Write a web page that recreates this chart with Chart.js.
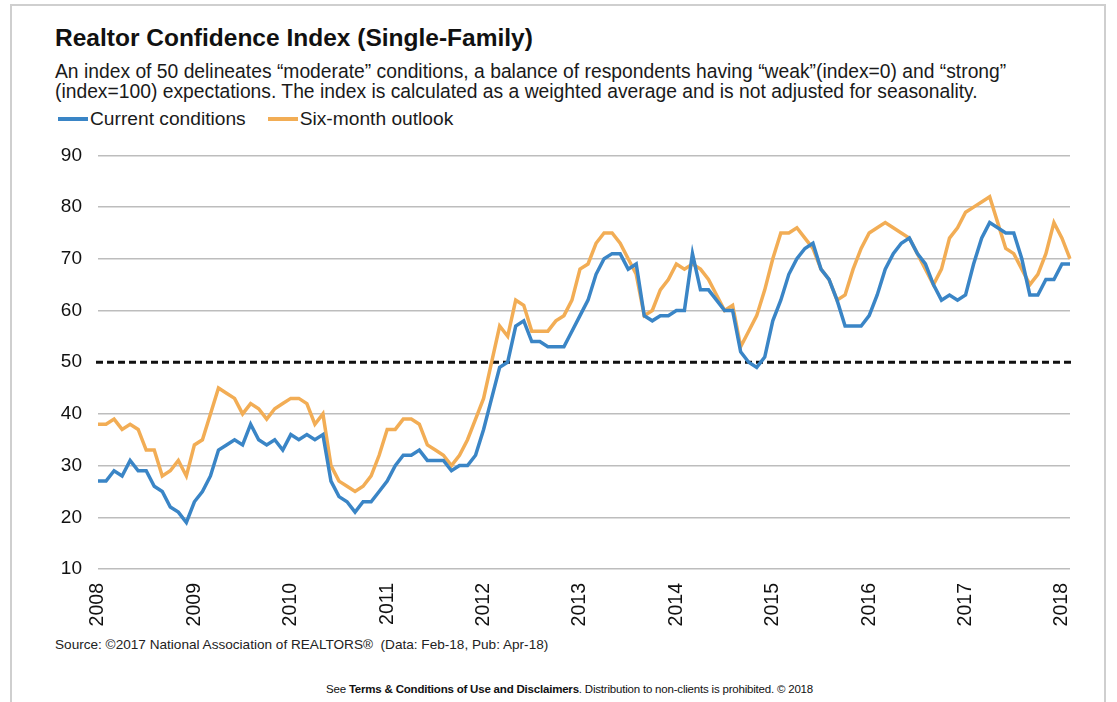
<!DOCTYPE html>
<html>
<head>
<meta charset="utf-8">
<script src="https://cdn.jsdelivr.net/npm/chart.js@4.4.1/dist/chart.umd.min.js"></script>
<style>
  html, body { margin: 0; padding: 0; background: #fff; }
  body { width: 1117px; height: 702px; position: relative; overflow: hidden;
         font-family: "Liberation Sans", Arial, sans-serif; color: #111; }
  #frame { position: absolute; left: 10px; top: 4px; width: 1096px; height: 720px;
           border: 2px solid #cfcfcf; box-sizing: border-box; }
  #title { position: absolute; left: 55px; top: 24px; font-size: 24.5px; font-weight: bold; }
  #sub { position: absolute; left: 55px; top: 62px; font-size: 19.3px; line-height: 20px; color: #1a1a1a; }
  #legend { position: absolute; left: 58px; top: 108px; font-size: 19.2px; line-height: 22px; color: #1a1a1a; white-space: nowrap; }
  #legend .sw { display: inline-block; width: 30px; height: 3.5px; vertical-align: middle; margin-right: 2px; position: relative; top: -1px; }
  #legend .item2 { margin-left: 22px; }
  #wrap { position: absolute; left: 0; top: 128px; width: 1117px; height: 501px; }
  #source { position: absolute; left: 55px; top: 637px; font-size: 13.6px; color: #222; }
  #foot { position: absolute; left: 11px; width: 1117px; top: 683px; text-align: center;
          font-size: 11.5px; color: #111; letter-spacing: -0.2px; }
</style>
</head>
<body>
<div id="frame"></div>
<div id="title">Realtor Confidence Index (Single-Family)</div>
<div id="sub">An index of 50 delineates “moderate” conditions, a balance of respondents having “weak”(index=0) and “strong”<br>(index=100) expectations. The index is calculated as a weighted average and is not adjusted for seasonality.</div>
<div id="legend"></div>
<div id="wrap"><canvas id="myChart"></canvas></div>
<div id="source">Source: ©2017 National Association of REALTORS®&nbsp; (Data: Feb-18, Pub: Apr-18)</div>
<div id="foot">See <b>Terms &amp; Conditions of Use and Disclaimers</b>. Distribution to non-clients is prohibited. © 2018</div>
<script>
// monthly, Jan 2008 .. Feb 2018
const tickYears = ['2008','2009','2010','2011','2012','2013','2014','2015','2016','2017','2018']
const monthNames = ['Jan','Feb','Mar','Apr','May','Jun','Jul','Aug','Sep','Oct','Nov','Dec']

const currentConditions = [
  27,27,29,28,31,29,29,26,25,22,21,19,   // 2008
  23,25,28,33,34,35,34,38,35,34,35,33,   // 2009
  36,35,36,35,36,27,24,23,21,23,23,25,   // 2010
  27,30,32,32,33,31,31,31,29,30,30,32,   // 2011
  37,43,49,50,57,58,54,54,53,53,53,56,   // 2012
  59,62,67,70,71,71,68,69,59,58,59,59,   // 2013
  60,60,71,64,64,62,60,60,52,50,49,51,   // 2014
  58,62,67,70,72,73,68,66,62,57,57,57,   // 2015
  59,63,68,71,73,74,71,69,65,62,63,62,   // 2016
  63,69,74,77,76,75,75,70,63,63,66,66,   // 2017
  69,69                                  // 2018
]
const sixMonthOutlook = [
  38,38,39,37,38,37,33,33,28,29,31,28,
  34,35,40,45,44,43,40,42,41,39,41,42,
  43,43,42,38,40,30,27,26,25,26,28,32,
  37,37,39,39,38,34,33,32,30,32,35,39,
  43,50,57,55,62,61,56,56,56,58,59,62,
  68,69,73,75,75,73,70,67,59,60,64,66,
  69,68,69,68,66,63,60,61,53,56,59,64,
  70,75,75,76,74,72,68,66,62,63,68,72,
  75,76,77,76,75,74,71,68,65,68,74,76,
  79,80,81,82,77,72,71,68,65,67,71,77,
  74,70
]
const MODERATE = 50
const seriesNames = ['Current conditions', 'Six-month outlook']
const seriesColors = ['#3a85c6', '#f2ad55']

let theLabels = []
tickYears.forEach(y => monthNames.forEach(m => theLabels.push(m + ' ' + y)))
theLabels = theLabels.slice(0, currentConditions.length)

// legend (html, line swatches close to the text like the original)
document.getElementById('legend').innerHTML = seriesNames.map((n, i) =>
  '<span class="item' + (i + 1) + '"><span class="sw" style="background:' + seriesColors[i] + '"></span>' + n + '</span>'
).join('')

const moderateLine = {
  id: 'moderateLine',
  beforeDatasetsDraw(chart) {
    const {ctx, chartArea, scales} = chart
    const py = scales.y.getPixelForValue(MODERATE)
    ctx.save()
    ctx.setLineDash([7, 4])
    ctx.lineWidth = 3
    ctx.strokeStyle = '#111'
    ctx.beginPath()
    ctx.moveTo(chartArea.left - 2, py)
    ctx.lineTo(chartArea.right + 3, py)
    ctx.stroke()
    ctx.restore()
  }
}

const font = "'Liberation Sans', Arial, sans-serif"
const ctx = document.getElementById('myChart').getContext('2d')
const chart = new Chart(ctx, {
  type: 'line',
  data: {
    labels: theLabels,
    datasets: [{
      label: seriesNames[0],
      data: currentConditions,
      borderColor: seriesColors[0],
      backgroundColor: seriesColors[0],
      borderWidth: 3.5,
      pointRadius: 0,
      tension: 0
    }, {
      label: seriesNames[1],
      data: sixMonthOutlook,
      borderColor: seriesColors[1],
      backgroundColor: seriesColors[1],
      borderWidth: 3.5,
      pointRadius: 0,
      tension: 0
    }]
  },
  options: {
    responsive: true,
    maintainAspectRatio: false,
    animation: false,
    layout: { padding: { left: 55, right: 47, top: 4, bottom: 0 } },
    plugins: {
      legend: { display: false },
      tooltip: { enabled: false }
    },
    scales: {
      x: {
        grid: { display: false },
        border: { display: false },
        ticks: {
          autoSkip: false,
          minRotation: 90,
          maxRotation: 90,
          padding: 6,
          color: '#111',
          font: { family: font, size: 19.5 },
          callback: function (val, i) {
            const l = theLabels[i]
            return l.startsWith('Jan') ? l.slice(4) : ''
          }
        },
        afterFit: s => { s.height = 60 }
      },
      y: {
        min: 10,
        max: 90,
        grid: {
          drawTicks: false,
          lineWidth: 1.6,
          color: c => (c.tick && c.tick.value === MODERATE) ? 'rgba(0,0,0,0)' : '#bdbdbd'
        },
        border: { display: false },
        ticks: {
          stepSize: 10,
          padding: 16,
          color: '#111',
          font: { family: font, size: 19 }
        },
        afterFit: s => { s.width = 43 }
      }
    }
  },
  plugins: [moderateLine]
})
</script>
</body>
</html>
